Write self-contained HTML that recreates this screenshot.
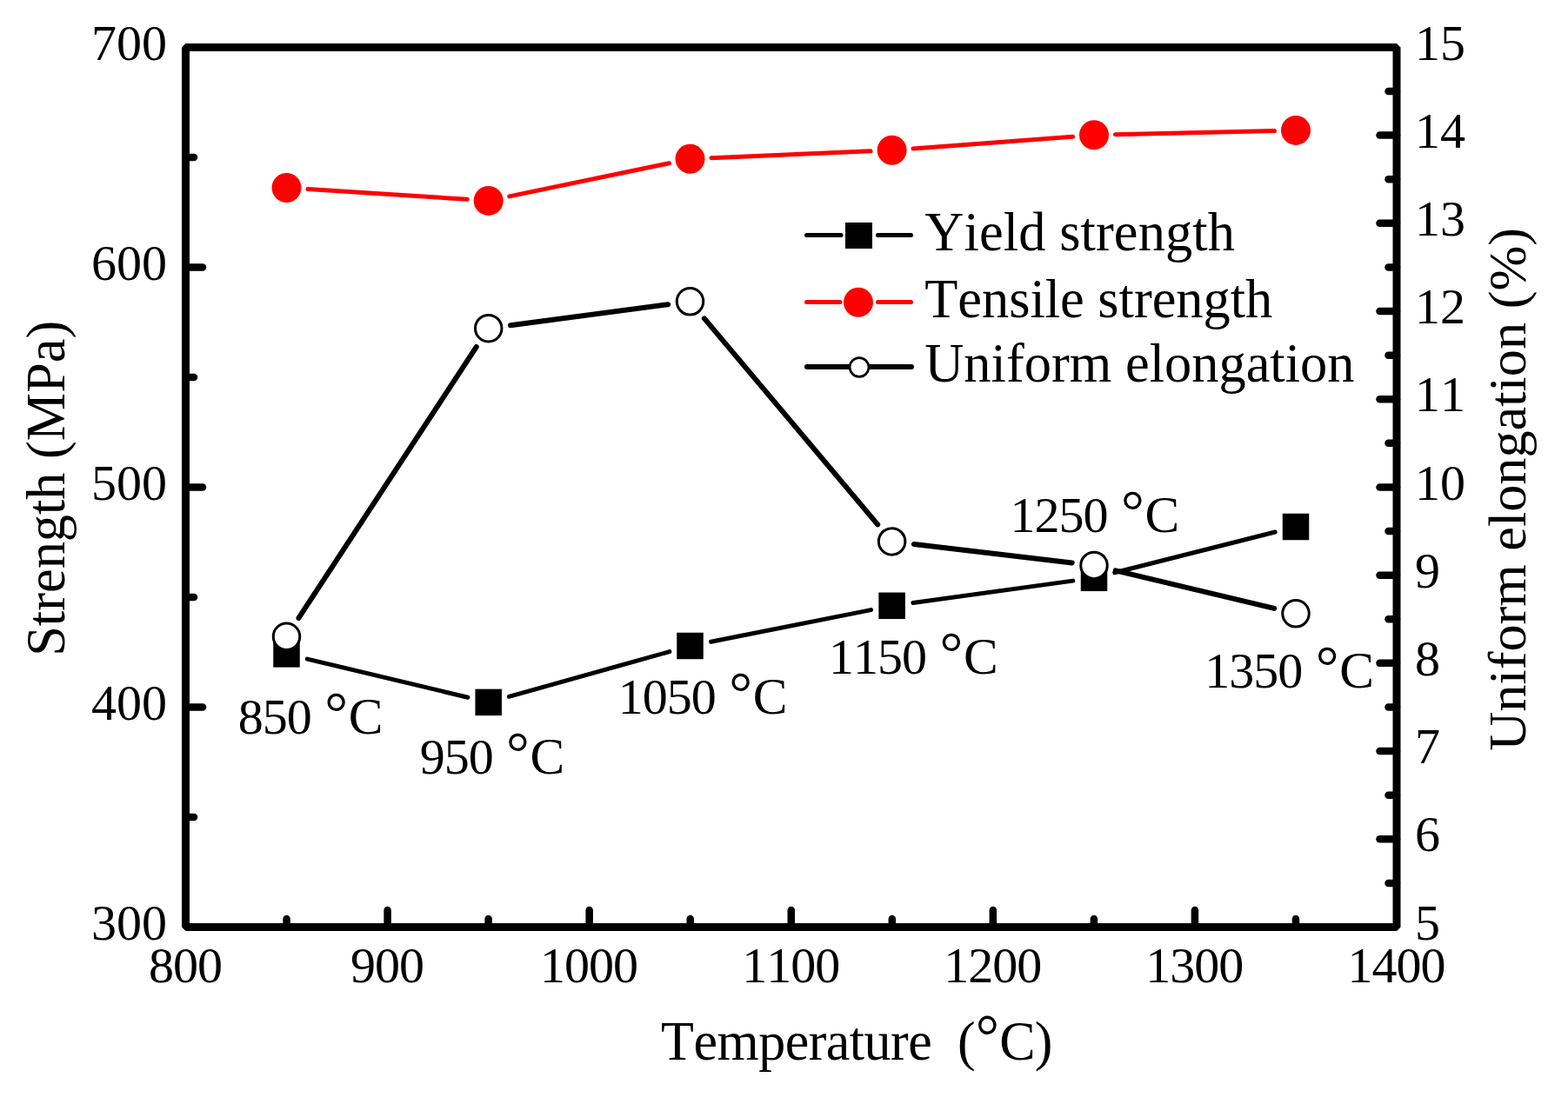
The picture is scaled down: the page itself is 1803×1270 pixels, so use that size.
<!DOCTYPE html>
<html><head><meta charset="utf-8"><title>Strength vs Temperature</title>
<style>html,body{margin:0;padding:0;background:#fff;}svg{display:block;}text{font-kerning:none;}</style>
</head><body>
<svg width="1803" height="1270" viewBox="0 0 1803 1270">
<rect width="1803" height="1270" fill="#fff"/>
<line x1="353.95" y1="217.57" x2="537.25" y2="229.33" stroke="#f00" stroke-width="5" stroke-linecap="round"/>
<line x1="585.69" y1="225.92" x2="769.51" y2="187.78" stroke="#f00" stroke-width="5" stroke-linecap="round"/>
<line x1="817.98" y1="181.75" x2="1001.12" y2="173.85" stroke="#f00" stroke-width="5" stroke-linecap="round"/>
<line x1="1050.03" y1="170.96" x2="1233.57" y2="157.14" stroke="#f00" stroke-width="5" stroke-linecap="round"/>
<line x1="1282.49" y1="154.73" x2="1465.51" y2="150.47" stroke="#f00" stroke-width="5" stroke-linecap="round"/>
<line x1="353.33" y1="758.10" x2="537.87" y2="802.20" stroke="#000" stroke-width="5" stroke-linecap="round"/>
<line x1="585.29" y1="801.29" x2="769.91" y2="749.61" stroke="#000" stroke-width="5" stroke-linecap="round"/>
<line x1="817.53" y1="738.22" x2="1001.57" y2="701.58" stroke="#000" stroke-width="5" stroke-linecap="round"/>
<line x1="1049.87" y1="693.46" x2="1233.73" y2="668.14" stroke="#000" stroke-width="5" stroke-linecap="round"/>
<line x1="1281.75" y1="658.78" x2="1466.25" y2="612.02" stroke="#000" stroke-width="5" stroke-linecap="round"/>
<line x1="343.47" y1="710.97" x2="547.73" y2="399.03" stroke="#000" stroke-width="6" stroke-linecap="round"/>
<line x1="586.98" y1="374.33" x2="768.22" y2="350.17" stroke="#000" stroke-width="6" stroke-linecap="round"/>
<line x1="809.91" y1="366.32" x2="1009.19" y2="603.38" stroke="#000" stroke-width="6" stroke-linecap="round"/>
<line x1="1050.92" y1="625.90" x2="1232.68" y2="647.40" stroke="#000" stroke-width="6" stroke-linecap="round"/>
<line x1="1282.80" y1="656.32" x2="1465.20" y2="699.88" stroke="#000" stroke-width="6" stroke-linecap="round"/>
<circle cx="329.5" cy="216.0" r="17" fill="#f00"/>
<circle cx="561.7" cy="230.9" r="17" fill="#f00"/>
<circle cx="793.5" cy="182.8" r="17" fill="#f00"/>
<circle cx="1025.6" cy="172.8" r="17" fill="#f00"/>
<circle cx="1258.0" cy="155.3" r="17" fill="#f00"/>
<circle cx="1490.0" cy="149.9" r="17" fill="#f00"/>
<rect x="314.25" y="737.15" width="30.5" height="30.5" fill="#000"/>
<rect x="546.45" y="792.65" width="30.5" height="30.5" fill="#000"/>
<rect x="778.25" y="727.75" width="30.5" height="30.5" fill="#000"/>
<rect x="1010.35" y="681.55" width="30.5" height="30.5" fill="#000"/>
<rect x="1242.75" y="649.55" width="30.5" height="30.5" fill="#000"/>
<rect x="1474.75" y="590.75" width="30.5" height="30.5" fill="#000"/>
<circle cx="329.5" cy="732.3" r="15.25" fill="#fff" stroke="#000" stroke-width="3"/>
<circle cx="561.7" cy="377.7" r="15.25" fill="#fff" stroke="#000" stroke-width="3"/>
<circle cx="793.5" cy="346.8" r="15.25" fill="#fff" stroke="#000" stroke-width="3"/>
<circle cx="1025.6" cy="622.9" r="15.25" fill="#fff" stroke="#000" stroke-width="3"/>
<circle cx="1258.0" cy="650.4" r="15.25" fill="#fff" stroke="#000" stroke-width="3"/>
<circle cx="1490.0" cy="705.8" r="15.25" fill="#fff" stroke="#000" stroke-width="3"/>
<rect x="213.5" y="54.4" width="1392.5" height="1012.1" fill="none" stroke="#000" stroke-width="9" stroke-linejoin="bevel"/>
<line x1="329.54" y1="1066.50" x2="329.54" y2="1057.00" stroke="#000" stroke-width="8.5" stroke-linecap="round"/>
<line x1="445.58" y1="1066.50" x2="445.58" y2="1047.00" stroke="#000" stroke-width="8.5" stroke-linecap="round"/>
<line x1="561.62" y1="1066.50" x2="561.62" y2="1057.00" stroke="#000" stroke-width="8.5" stroke-linecap="round"/>
<line x1="677.67" y1="1066.50" x2="677.67" y2="1047.00" stroke="#000" stroke-width="8.5" stroke-linecap="round"/>
<line x1="793.71" y1="1066.50" x2="793.71" y2="1057.00" stroke="#000" stroke-width="8.5" stroke-linecap="round"/>
<line x1="909.75" y1="1066.50" x2="909.75" y2="1047.00" stroke="#000" stroke-width="8.5" stroke-linecap="round"/>
<line x1="1025.79" y1="1066.50" x2="1025.79" y2="1057.00" stroke="#000" stroke-width="8.5" stroke-linecap="round"/>
<line x1="1141.83" y1="1066.50" x2="1141.83" y2="1047.00" stroke="#000" stroke-width="8.5" stroke-linecap="round"/>
<line x1="1257.88" y1="1066.50" x2="1257.88" y2="1057.00" stroke="#000" stroke-width="8.5" stroke-linecap="round"/>
<line x1="1373.92" y1="1066.50" x2="1373.92" y2="1047.00" stroke="#000" stroke-width="8.5" stroke-linecap="round"/>
<line x1="1489.96" y1="1066.50" x2="1489.96" y2="1057.00" stroke="#000" stroke-width="8.5" stroke-linecap="round"/>
<line x1="213.50" y1="939.99" x2="223.00" y2="939.99" stroke="#000" stroke-width="8.5" stroke-linecap="round"/>
<line x1="213.50" y1="813.48" x2="233.00" y2="813.48" stroke="#000" stroke-width="8.5" stroke-linecap="round"/>
<line x1="213.50" y1="686.96" x2="223.00" y2="686.96" stroke="#000" stroke-width="8.5" stroke-linecap="round"/>
<line x1="213.50" y1="560.45" x2="233.00" y2="560.45" stroke="#000" stroke-width="8.5" stroke-linecap="round"/>
<line x1="213.50" y1="433.94" x2="223.00" y2="433.94" stroke="#000" stroke-width="8.5" stroke-linecap="round"/>
<line x1="213.50" y1="307.42" x2="233.00" y2="307.42" stroke="#000" stroke-width="8.5" stroke-linecap="round"/>
<line x1="213.50" y1="180.91" x2="223.00" y2="180.91" stroke="#000" stroke-width="8.5" stroke-linecap="round"/>
<line x1="1606.00" y1="1015.89" x2="1596.50" y2="1015.89" stroke="#000" stroke-width="8.5" stroke-linecap="round"/>
<line x1="1606.00" y1="965.29" x2="1586.50" y2="965.29" stroke="#000" stroke-width="8.5" stroke-linecap="round"/>
<line x1="1606.00" y1="914.68" x2="1596.50" y2="914.68" stroke="#000" stroke-width="8.5" stroke-linecap="round"/>
<line x1="1606.00" y1="864.08" x2="1586.50" y2="864.08" stroke="#000" stroke-width="8.5" stroke-linecap="round"/>
<line x1="1606.00" y1="813.48" x2="1596.50" y2="813.48" stroke="#000" stroke-width="8.5" stroke-linecap="round"/>
<line x1="1606.00" y1="762.87" x2="1586.50" y2="762.87" stroke="#000" stroke-width="8.5" stroke-linecap="round"/>
<line x1="1606.00" y1="712.26" x2="1596.50" y2="712.26" stroke="#000" stroke-width="8.5" stroke-linecap="round"/>
<line x1="1606.00" y1="661.66" x2="1586.50" y2="661.66" stroke="#000" stroke-width="8.5" stroke-linecap="round"/>
<line x1="1606.00" y1="611.06" x2="1596.50" y2="611.06" stroke="#000" stroke-width="8.5" stroke-linecap="round"/>
<line x1="1606.00" y1="560.45" x2="1586.50" y2="560.45" stroke="#000" stroke-width="8.5" stroke-linecap="round"/>
<line x1="1606.00" y1="509.85" x2="1596.50" y2="509.85" stroke="#000" stroke-width="8.5" stroke-linecap="round"/>
<line x1="1606.00" y1="459.24" x2="1586.50" y2="459.24" stroke="#000" stroke-width="8.5" stroke-linecap="round"/>
<line x1="1606.00" y1="408.63" x2="1596.50" y2="408.63" stroke="#000" stroke-width="8.5" stroke-linecap="round"/>
<line x1="1606.00" y1="358.03" x2="1586.50" y2="358.03" stroke="#000" stroke-width="8.5" stroke-linecap="round"/>
<line x1="1606.00" y1="307.42" x2="1596.50" y2="307.42" stroke="#000" stroke-width="8.5" stroke-linecap="round"/>
<line x1="1606.00" y1="256.82" x2="1586.50" y2="256.82" stroke="#000" stroke-width="8.5" stroke-linecap="round"/>
<line x1="1606.00" y1="206.21" x2="1596.50" y2="206.21" stroke="#000" stroke-width="8.5" stroke-linecap="round"/>
<line x1="1606.00" y1="155.61" x2="1586.50" y2="155.61" stroke="#000" stroke-width="8.5" stroke-linecap="round"/>
<line x1="1606.00" y1="105.00" x2="1596.50" y2="105.00" stroke="#000" stroke-width="8.5" stroke-linecap="round"/>
<g font-family="'Liberation Serif', 'Times New Roman', serif" font-size="58" fill="#000">
<text x="170.90" y="1130.4" letter-spacing="-1">800</text>
<text x="402.98" y="1130.4" letter-spacing="-1">900</text>
<text x="621.07" y="1130.4" letter-spacing="-1">1000</text>
<text x="853.15" y="1130.4" letter-spacing="-1">1100</text>
<text x="1085.23" y="1130.4" letter-spacing="-1">1200</text>
<text x="1317.32" y="1130.4" letter-spacing="-1">1300</text>
<text x="1549.40" y="1130.4" letter-spacing="-1">1400</text>
<text x="192.1" y="1080.60" text-anchor="end">300</text>
<text x="192.1" y="827.58" text-anchor="end">400</text>
<text x="192.1" y="574.55" text-anchor="end">500</text>
<text x="192.1" y="321.52" text-anchor="end">600</text>
<text x="192.1" y="68.50" text-anchor="end">700</text>
<text x="1627" y="1080.70">5</text>
<text x="1627" y="979.49">6</text>
<text x="1627" y="878.28">7</text>
<text x="1627" y="777.07">8</text>
<text x="1627" y="675.86">9</text>
<text x="1627" y="574.65">10</text>
<text x="1627" y="473.44">11</text>
<text x="1627" y="372.23">12</text>
<text x="1627" y="271.02">13</text>
<text x="1627" y="169.81">14</text>
<text x="1627" y="68.60">15</text>
</g>
<g font-family="'Liberation Serif', 'Times New Roman', serif" fill="#000">
<text y="844.3" font-size="58" letter-spacing="-1.00"><tspan x="273.79">850</tspan> <tspan x="373.27" y="843.20" font-size="67.0" letter-spacing="0">°</tspan><tspan x="400.74" y="844.3" font-size="59.5" letter-spacing="0">C</tspan></text>
<text y="890.4" font-size="58" letter-spacing="-1.00"><tspan x="482.63">950</tspan> <tspan x="582.11" y="889.30" font-size="67.0" letter-spacing="0">°</tspan><tspan x="609.58" y="890.4" font-size="59.5" letter-spacing="0">C</tspan></text>
<text y="820.9" font-size="58" letter-spacing="-1.00"><tspan x="710.70">1050</tspan> <tspan x="838.18" y="819.80" font-size="67.0" letter-spacing="0">°</tspan><tspan x="865.65" y="820.9" font-size="59.5" letter-spacing="0">C</tspan></text>
<text y="775.0" font-size="58" letter-spacing="-1.00"><tspan x="953.10">1150</tspan> <tspan x="1080.58" y="773.90" font-size="67.0" letter-spacing="0">°</tspan><tspan x="1108.05" y="775.0" font-size="59.5" letter-spacing="0">C</tspan></text>
<text y="611.9" font-size="58" letter-spacing="-1.00"><tspan x="1161.50">1250</tspan> <tspan x="1288.98" y="610.80" font-size="67.0" letter-spacing="0">°</tspan><tspan x="1316.45" y="611.9" font-size="59.5" letter-spacing="0">C</tspan></text>
<text y="790.7" font-size="58" letter-spacing="-1.00"><tspan x="1385.30">1350</tspan> <tspan x="1512.78" y="789.60" font-size="67.0" letter-spacing="0">°</tspan><tspan x="1540.25" y="790.7" font-size="59.5" letter-spacing="0">C</tspan></text>
</g>
<text font-family="'Liberation Serif', 'Times New Roman', serif" font-size="62" transform="translate(0,1219.3) scale(1,1.03)" x="760.08" y="0" textLength="311.6" lengthAdjust="spacing">Temperature</text>
<text font-family="'Liberation Serif', 'Times New Roman', serif" font-size="62" transform="translate(0,1219.3) scale(1,1.02)" y="0" xml:space="preserve"><tspan x="1100.98">(</tspan><tspan x="1121.74" y="-4.01" font-size="68">°</tspan><tspan x="1149.36" y="0">C</tspan><tspan x="1189.80">)</tspan></text>
<text font-family="'Liberation Serif', 'Times New Roman', serif" font-size="62.2" transform="translate(73.8,561.8) rotate(-90) scale(1,1.02)" text-anchor="middle" textLength="386.0" lengthAdjust="spacing">Strength (MPa)</text>
<text font-family="'Liberation Serif', 'Times New Roman', serif" font-size="62.3" transform="translate(1753.9,562.85) rotate(-90)" text-anchor="middle" textLength="601.8" lengthAdjust="spacing">Uniform elongation (%)</text>
<line x1="927.5" y1="270.6" x2="967" y2="270.6" stroke="#000" stroke-width="5" stroke-linecap="round"/>
<line x1="1009.5" y1="270.6" x2="1047.5" y2="270.6" stroke="#000" stroke-width="5" stroke-linecap="round"/>
<rect x="972" y="256" width="31" height="30" fill="#000"/>
<line x1="927.5" y1="347.5" x2="966" y2="347.5" stroke="#f00" stroke-width="5" stroke-linecap="round"/>
<line x1="1009.5" y1="347.5" x2="1047.5" y2="347.5" stroke="#f00" stroke-width="5" stroke-linecap="round"/>
<circle cx="987" cy="347.8" r="17" fill="#f00"/>
<line x1="928" y1="422" x2="1048" y2="422" stroke="#000" stroke-width="6" stroke-linecap="round"/>
<circle cx="988" cy="422.5" r="10.9" fill="#fff" stroke="#000" stroke-width="2.6"/>
<g font-family="'Liberation Serif', 'Times New Roman', serif" font-size="62.4" fill="#000">
<text transform="translate(1063.3,287.9) scale(1,1.02)" textLength="356.6" lengthAdjust="spacing">Yield strength</text>
<text transform="translate(1063.3,364.8) scale(1,1.02)" textLength="399.9" lengthAdjust="spacing">Tensile strength</text>
<text transform="translate(1063.3,438.7) scale(1,1.02)" textLength="494.2" lengthAdjust="spacing">Uniform elongation</text>
</g>
</svg>
</body></html>
